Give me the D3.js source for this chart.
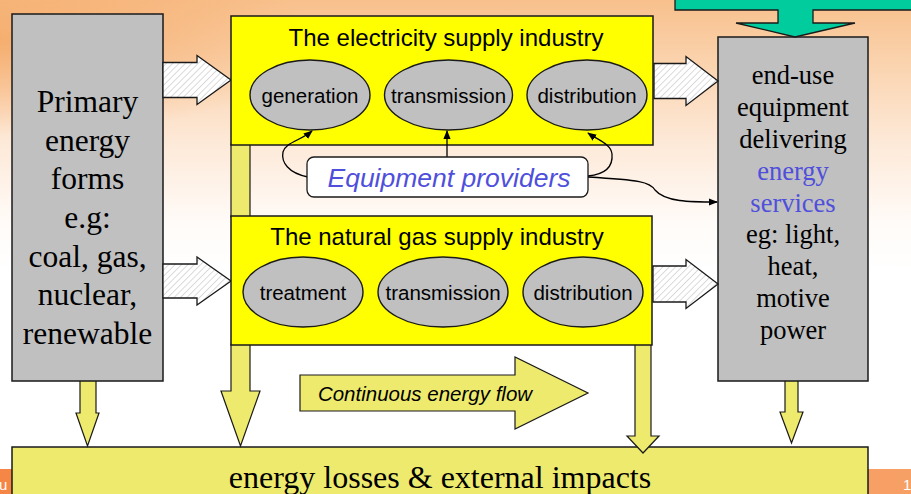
<!DOCTYPE html>
<html><head><meta charset="utf-8">
<script src="https://cdn.jsdelivr.net/npm/d3@7"></script>
<style>html,body{margin:0;padding:0;background:#fff;overflow:hidden}</style>
</head><body>
<script>
// ---- content ----
const primaryLines = ["Primary","energy","forms","e.g:","coal, gas,","nuclear,","renewable"];
const endUseLines = ["end-use","equipment","delivering","energy","services","eg: light,","heat,","motive","power"];
const endUseBlue = [false,false,false,true,true,false,false,false,false];
const electricityTitle = "The electricity supply industry";
const electricityStages = ["generation","transmission","distribution"];
const gasTitle = "The natural gas supply industry";
const gasStages = ["treatment","transmission","distribution"];
const providersLabel = "Equipment providers";
const flowLabel = "Continuous energy flow";
const lossesLabel = "energy losses & external impacts";
const footerLeft = "u";
const footerRight = "1";

const W = 911, H = 494;
const svg = d3.select("body").append("svg").attr("width", W).attr("height", H)
  .style("display","block");
const defs = svg.append("defs");

// background gradients
const bg = defs.append("linearGradient").attr("id","bg").attr("x1",0).attr("y1",0).attr("x2",0).attr("y2",1);
[[0,"#F8C08C"],[0.12,"#FAD2AC"],[0.28,"#FDE8D6"],[0.45,"#FFFBF8"],[0.55,"#FFFFFF"],[1,"#FFFFFF"]]
  .forEach(([o,c])=>bg.append("stop").attr("offset",o).attr("stop-color",c));
const bgL = defs.append("radialGradient").attr("id","bgL").attr("cx",0).attr("cy",0.15).attr("r",0.35);
bgL.append("stop").attr("offset",0).attr("stop-color","#F4A45E").attr("stop-opacity",0.75);
bgL.append("stop").attr("offset",1).attr("stop-color","#F4A45E").attr("stop-opacity",0);
const foot = defs.append("linearGradient").attr("id","foot").attr("x1",0).attr("y1",0).attr("x2",1).attr("y2",0);
foot.append("stop").attr("offset",0).attr("stop-color","#F58646");
foot.append("stop").attr("offset",1).attr("stop-color","#F7A066");

// hatch pattern
const pat = defs.append("pattern").attr("id","hatch").attr("patternUnits","userSpaceOnUse")
  .attr("width",4.5).attr("height",4.5).attr("patternTransform","rotate(45)");
pat.append("rect").attr("width",4.5).attr("height",4.5).attr("fill","#fff");
pat.append("line").attr("x1",0).attr("y1",0).attr("x2",0).attr("y2",4.5).attr("stroke","#BDBDBD").attr("stroke-width",1.1);

// arrow marker
defs.append("marker").attr("id","ah").attr("viewBox","0 0 10 10").attr("refX",9).attr("refY",5)
  .attr("markerWidth",7).attr("markerHeight",7).attr("orient","auto")
  .append("path").attr("d","M0,1 L10,5 L0,9 Z").attr("fill","#000");

svg.append("rect").attr("width",W).attr("height",H).attr("fill","url(#bg)");
svg.append("rect").attr("width",W).attr("height",H*0.55).attr("fill","url(#bgL)");

const STROKE = "#1a1a1a";
const LY = "#EDEA6E", YEL = "#FFFF00", GREY = "#C0C0C0";
const serif = "'Liberation Serif', 'Times New Roman', serif";
const sans = "'Liberation Sans', Arial, sans-serif";

// footer bar
svg.append("rect").attr("x",0).attr("y",469).attr("width",W).attr("height",25).attr("fill","url(#foot)");
svg.append("text").attr("x",-1).attr("y",490).attr("fill","#fff").attr("font-family",sans).attr("font-size",15).text(footerLeft);
svg.append("text").attr("x",903).attr("y",490).attr("fill","#fff").attr("font-family",sans).attr("font-size",15).text(footerRight);

const line = d3.line();
function rightArrow(x0, xh, x1, yc, sh, hh){
  return line([[x0,yc-sh],[xh,yc-sh],[xh,yc-hh],[x1,yc],[xh,yc+hh],[xh,yc+sh],[x0,yc+sh]])+"Z";
}
function downArrow(xl, xr, y0, yh, hl, hr, ty){
  const xc = (hl+hr)/2;
  return line([[xl,y0],[xr,y0],[xr,yh],[hr,yh],[xc,ty],[hl,yh],[xl,yh]])+"Z";
}

// connector shaft between the two industries
svg.append("rect").attr("x",231).attr("y",144).attr("width",19).attr("height",73)
  .attr("fill",LY).attr("stroke",STROKE).attr("stroke-width",1.2);

// bottom losses box
svg.append("rect").attr("x",12).attr("y",447).attr("width",856).attr("height",60)
  .attr("fill",LY).attr("stroke",STROKE).attr("stroke-width",1.5);
svg.append("text").attr("x",440).attr("y",488).attr("text-anchor","middle")
  .attr("font-family",serif).attr("font-size",32).attr("fill","#000").text(lossesLabel);

// down arrows
svg.append("path").attr("d",downArrow(80,96,380,413,76,99,446)).attr("fill",LY).attr("stroke",STROKE).attr("stroke-width",1.2);
svg.append("path").attr("d",downArrow(231,250,344,391,221,260,446)).attr("fill",LY).attr("stroke",STROKE).attr("stroke-width",1.2);
svg.append("path").attr("d",downArrow(635,651,344,436,627,659,453)).attr("fill",LY).attr("stroke",STROKE).attr("stroke-width",1.2);
svg.append("path").attr("d",downArrow(785,798,380,412,780,803,443)).attr("fill",LY).attr("stroke",STROKE).attr("stroke-width",1.2);

// continuous flow arrow
svg.append("path").attr("d",rightArrow(300,515,588,393,18,36)).attr("fill",LY).attr("stroke",STROKE).attr("stroke-width",1.2);
svg.append("text").attr("x",425).attr("y",401).attr("text-anchor","middle").attr("font-family",sans)
  .attr("font-style","italic").attr("font-size",20.5).attr("fill","#000").text(flowLabel);

// primary box
svg.append("rect").attr("x",12).attr("y",14).attr("width",151).attr("height",367)
  .attr("fill",GREY).attr("stroke",STROKE).attr("stroke-width",1.5);
const pY = d3.scalePoint().domain(d3.range(primaryLines.length)).range([112,344]);
svg.append("g").selectAll("text").data(primaryLines).join("text")
  .attr("x",87.5).attr("y",(d,i)=>pY(i)).attr("text-anchor","middle")
  .attr("font-family",serif).attr("font-size",31.5).attr("fill","#000").text(d=>d);

// end-use box
svg.append("rect").attr("x",718).attr("y",37).attr("width",150).attr("height",344)
  .attr("fill",GREY).attr("stroke",STROKE).attr("stroke-width",1.5);
const eY = d3.scalePoint().domain(d3.range(endUseLines.length)).range([84,339]);
svg.append("g").selectAll("text").data(endUseLines).join("text")
  .attr("x",793).attr("y",(d,i)=>eY(i)).attr("text-anchor","middle")
  .attr("font-family",serif).attr("font-size",26.5)
  .attr("fill",(d,i)=>endUseBlue[i]?"#4F4FDC":"#000").text(d=>d);

// teal arrow at the top right
svg.append("path").attr("d", line([[675,-5],[675,10],[778,10],[778,23],[736,23],[795,37],[855,23],[813,23],[813,10],[920,10],[920,-5]])+"Z")
  .attr("fill","#00CC9E").attr("stroke",STROKE).attr("stroke-width",1.3);

// hatched arrows
const hatch = (d)=>svg.append("path").attr("d",d).attr("fill","url(#hatch)").attr("stroke",STROKE).attr("stroke-width",1.3);
hatch(rightArrow(163,197,231,80,17.5,24.5));
hatch(rightArrow(654,686,718,81,17.5,24.5));
hatch(rightArrow(163,197,231,281,17,24));
hatch(rightArrow(653,686,718,284,18,24.5));

// industry boxes
function industry(x, y, w, h, title, titleX, titleY, stages, xs, cy, rxs){
  svg.append("rect").attr("x",x).attr("y",y).attr("width",w).attr("height",h)
    .attr("fill",YEL).attr("stroke",STROKE).attr("stroke-width",1.5);
  svg.append("text").attr("x",titleX).attr("y",titleY).attr("text-anchor","middle")
    .attr("font-family",sans).attr("font-size",24).attr("fill","#000").text(title);
  const g = svg.append("g");
  g.selectAll("ellipse").data(stages).join("ellipse")
    .attr("cx",d=>xs(d)).attr("cy",cy).attr("rx",(d,i)=>rxs[i]).attr("ry",35)
    .attr("fill",GREY).attr("stroke",STROKE).attr("stroke-width",1.4);
  g.selectAll("text").data(stages).join("text")
    .attr("x",d=>xs(d)).attr("y",cy+8).attr("text-anchor","middle")
    .attr("font-family",sans).attr("font-size",20.5).attr("fill","#000").text(d=>d);
}
const elX = d3.scalePoint().domain(electricityStages).range([310,587]);
industry(231,16,422,129,electricityTitle,446,46,electricityStages,elX,95,[60,64,60]);
const gasX = d3.scalePoint().domain(gasStages).range([303,583]);
industry(231,216,421,129,gasTitle,437,245,gasStages,gasX,292,[60,65,60]);

// equipment providers
const conn = svg.append("g").attr("fill","none").attr("stroke","#000").attr("stroke-width",1.3);
conn.append("path").attr("d","M308,177 C288,173 281,162 283,152 C286,142 300,141 312,131").attr("marker-end","url(#ah)");
conn.append("path").attr("d","M447,157 L447,131").attr("marker-end","url(#ah)");
conn.append("path").attr("d","M588,176 C608,174 613,165 612,154 C611,144 598,140 588,133").attr("marker-end","url(#ah)");
conn.append("path").attr("d","M588,177 C640,180 650,182 655,190 C665,202 690,202 717,202").attr("marker-end","url(#ah)");

svg.append("rect").attr("x",307).attr("y",157).attr("width",281).attr("height",40).attr("rx",7)
  .attr("fill","#fff").attr("stroke",STROKE).attr("stroke-width",1.3);
svg.append("text").attr("x",449).attr("y",187).attr("text-anchor","middle").attr("font-family",sans)
  .attr("font-style","italic").attr("font-size",26.5).attr("fill","#4F4FDC").text(providersLabel);
</script>
</body></html>
